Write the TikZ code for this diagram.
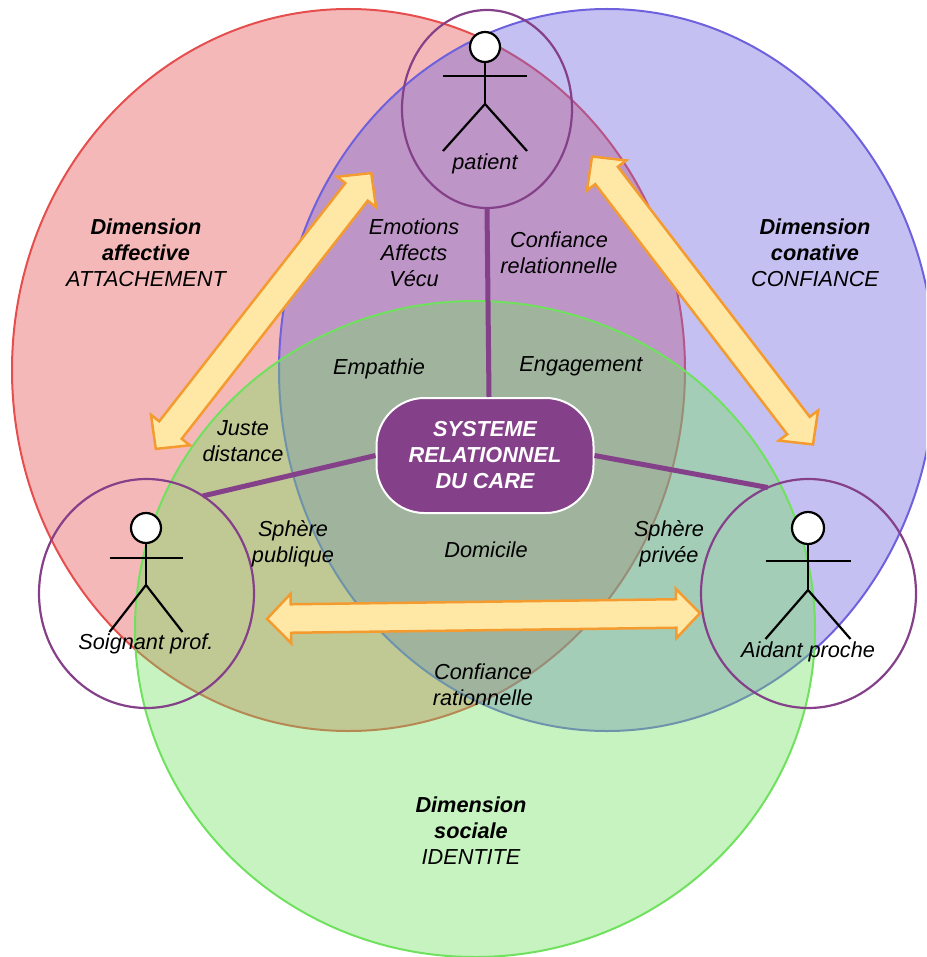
\documentclass[tikz,border=0pt]{standalone}
\usepackage{fontspec}
\setmainfont{Liberation Sans}
\usetikzlibrary{shapes.geometric, shapes.arrows}

\definecolor{dimred}{RGB}{230,78,78}
\definecolor{dimblue}{RGB}{110,97,222}
\definecolor{dimgreen}{RGB}{112,225,95}
\definecolor{careviolet}{RGB}{133,64,138}
\definecolor{arroworange}{RGB}{244,155,48}
\definecolor{arrowfill}{RGB}{255,232,165}

\begin{document}
\begin{tikzpicture}[
    x=1pt, y=-1pt,
    dim/.style={ellipse, draw=#1, fill=#1, fill opacity=.4, line width=2pt, inner sep=0pt, outer sep=0pt},
    actor/.style={ellipse, draw=careviolet, line width=2.2pt, inner sep=0pt, outer sep=0pt},
    stick/.style={draw=black, line width=2.2pt},
    link/.style={draw=careviolet, line width=5pt},
    bigarrow/.style={double arrow, draw=arroworange, fill=arrowfill, line width=2.5pt, inner xsep=0pt, inner ysep=13pt,
        double arrow head extend=10.5pt, double arrow tip angle=92, minimum width=0pt},
    lbl/.style={align=center, inner sep=0pt, font=\fontsize{21.7}{26}\selectfont\itshape},
    core/.style={rectangle, rounded corners=48pt, draw=white, fill=careviolet, line width=2pt, minimum width=217pt,
        minimum height=115pt, align=center, text=white, inner sep=0pt, font=\fontsize{21.7}{26}\selectfont\bfseries\itshape}
]
\path[use as bounding box, clip] (0,0) rectangle (926,957);

% Dimensions
\node[dim=dimred, minimum width=673pt, minimum height=722pt] (affective) at (348.5,370) {};
\node[dim=dimblue, minimum width=656pt, minimum height=722pt] (conative) at (607,370) {};
\node[dim=dimgreen, minimum width=680pt, minimum height=656pt] (sociale) at (475,629) {};

% Actors
\node[actor, minimum width=170pt, minimum height=198pt] (patient) at (487,109) {};
\node[actor, minimum width=215pt, minimum height=229pt] (soignant) at (146.5,593.5) {};
\node[actor, minimum width=215pt, minimum height=229pt] (aidant) at (808.5,593.5) {};
\foreach \hx/\hy/\rad/\army/\hipy/\footy/\half in {485/47/15/76/104/151/42, 146/528/15/558/585/632/36.5, 808/528/16/561/590/639/42.5} {
    \draw[stick] (\hx,\hy) -- (\hx,\hipy);
    \draw[stick] (\hx-\half,\army) -- (\hx+\half,\army);
    \draw[stick] (\hx-\half,\footy) -- (\hx,\hipy) -- (\hx+\half,\footy);
    \draw[stick, fill=white] (\hx,\hy) circle (\rad);
}

% Center
\node[core] (care) at (485,455.5) {SYSTEME\\RELATIONNEL\\DU CARE};
\draw[link] (patient.south) -- ([xshift=4pt]care.north);
\draw[link] (care.west) -- (soignant.60);
\draw[link] (care.east) -- (aidant.111);

% Arrows
\node[bigarrow, minimum height=350pt, rotate=52] (patsoi) at (263.5,311) {};
\node[bigarrow, minimum height=363pt, rotate=-52.5] (pataid) at (702.5,300.5) {};
\node[bigarrow, minimum height=433pt, rotate=0.75] (soiaid) at (483.5,616) {};

% Labels
\node[lbl] (lbaff) at (146,253) {\textbf{Dimension}\\\textbf{affective}\\ATTACHEMENT};
\node[lbl] (lbcon) at (815,253) {\textbf{Dimension}\\\textbf{conative}\\CONFIANCE};
\node[lbl] (lbsoc) at (471,831) {\textbf{Dimension}\\\textbf{sociale}\\IDENTITE};
\node[lbl] (lbpat) at (485,164) {patient};
\node[lbl] (lbsoi) at (146,644) {Soignant prof.};
\node[lbl] (lbaid) at (808,652) {Aidant proche};
\node[lbl] (lbemo) at (414,253) {Emotions\\Affects\\Vécu};
\node[lbl] (lbrel) at (559,253) {Confiance\\relationnelle};
\node[lbl] (lbemp) at (379,369) {Empathie};
\node[lbl] (lbeng) at (581,366) {Engagement};
\node[lbl] (lbjus) at (243,441) {Juste\\distance};
\node[lbl] (lbpub) at (293,544) {Sphère\\publique};
\node[lbl] (lbdom) at (486,550) {Domicile};
\node[lbl] (lbpri) at (669,544) {Sphère\\privée};
\node[lbl] (lbrat) at (483,685) {Confiance\\rationnelle};

\end{tikzpicture}
\end{document}
